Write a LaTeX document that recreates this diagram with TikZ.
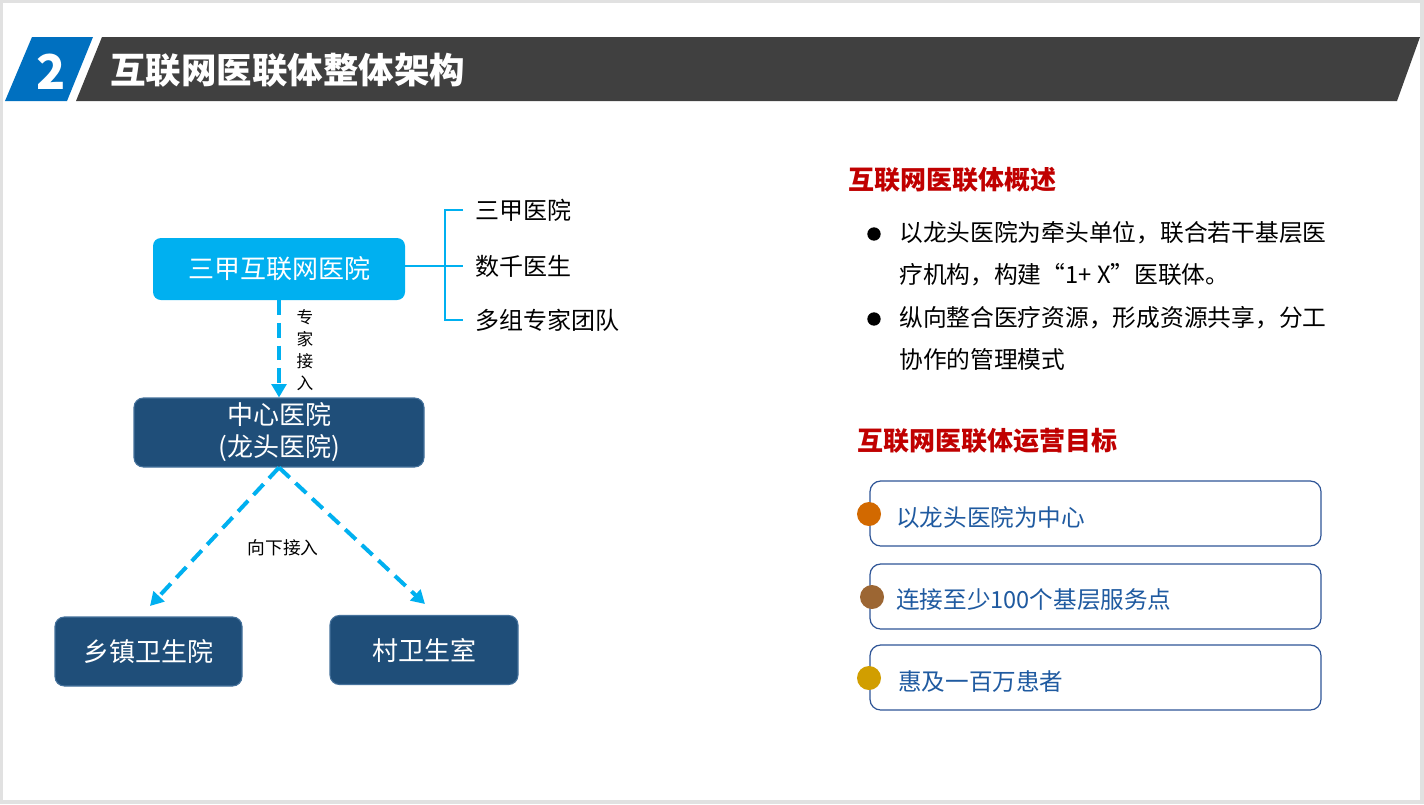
\documentclass[tikz,border=0pt]{standalone}
\usepackage{fontspec}
\setmainfont{Noto Sans CJK SC}
\usetikzlibrary{arrows.meta,positioning}
\definecolor{framegray}{RGB}{225,225,225}
\definecolor{titleblue}{RGB}{0,112,192}
\definecolor{bardark}{RGB}{64,64,64}
\definecolor{hubcyan}{RGB}{0,176,240}
\definecolor{navy}{RGB}{31,78,121}
\definecolor{navyline}{RGB}{70,114,156}
\definecolor{headred}{RGB}{192,0,0}
\definecolor{goalblue}{RGB}{31,90,160}
\definecolor{goalline}{RGB}{47,85,151}
\definecolor{dotorange}{RGB}{210,105,0}
\definecolor{dotbrown}{RGB}{156,102,51}
\definecolor{dotgold}{RGB}{209,158,0}
\tikzset{
  hub box/.style={rectangle,rounded corners=6pt,fill=hubcyan,text=white,minimum width=189pt,minimum height=46.5pt,inner sep=0pt,font=\fontsize{19.5}{24}\selectfont},
  navy box/.style={rectangle,rounded corners=7pt,fill=navy,draw=navyline,line width=0.8pt,text=white,minimum height=51.75pt,inner sep=0pt,align=center,font=\fontsize{19.5}{24}\selectfont},
  item text/.style={anchor=west,inner sep=0pt,font=\fontsize{18}{22}\selectfont},
  small label/.style={inner sep=0pt,align=center,font=\fontsize{12.5}{16.5}\selectfont},
  link arrow/.style={hubcyan,line width=3pt,dash pattern=on 11pt off 6pt,-{Triangle[length=10pt,width=11pt]}},
  brace line/.style={hubcyan,line width=1.2pt},
  heading/.style={anchor=west,inner sep=0pt,text=headred,font=\bfseries\fontsize{19.5}{24}\selectfont},
  bullet dot/.style={circle,fill=black,minimum size=10pt,inner sep=0pt},
  bullet text/.style={anchor=north west,inner sep=0pt,align=left,font=\fontsize{17.8}{31.5}\selectfont},
  goal box/.style={rectangle,rounded corners=8pt,draw=goalline,line width=0.9pt,minimum width=338.25pt,minimum height=48.75pt,inner sep=0pt},
  goal dot/.style={circle,minimum size=18pt,inner sep=0pt},
  goal text/.style={anchor=west,inner sep=0pt,text=goalblue,font=\fontsize{17.7}{22}\selectfont},
}
\begin{document}
\begin{tikzpicture}[x=0.75pt,y=-0.75pt]
  \useasboundingbox (0,0) rectangle (1424,804);
  \fill[framegray] (0,0) rectangle (1424,804);
  \fill[white] (3,3) rectangle (1420,800);
  % title bar
  \fill[titleblue] (5,101) -- (32,37) -- (93,37) -- (67,101) -- cycle;
  \fill[bardark] (76,101) -- (102,37) -- (1420,37) -- (1397,101) -- cycle;
  \node[text=white,inner sep=0pt,font=\bfseries\fontsize{36}{40}\selectfont] (num) at (51,72) {2};
  \node[anchor=west,text=white,inner sep=0pt,font=\bfseries\fontsize{26.6}{30}\selectfont] (title) at (110,70) {互联网医联体整体架构};

  % left: structure
  \node[hub box] (hub) at (279,269) {三甲互联网医院};
  \node[item text] (item1) at (475,210) {三甲医院};
  \node[item text] (item2) at (475,266) {数千医生};
  \node[item text] (item3) at (475,320) {多组专家团队};
  \coordinate (brace) at (445,266);
  \draw[brace line] (hub.east |- brace) -- ([xshift=-9pt]item2.west |- brace);
  \draw[brace line] ([xshift=-9pt]item1.west) -| (brace) |- ([xshift=-9pt]item3.west);

  \node[navy box,minimum width=217.5pt] (center) at (279,432.5) {中心医院\\(龙头医院)};
  \node[navy box,minimum width=140.25pt] (town) at (148.5,651.5) {乡镇卫生院};
  \node[navy box,minimum width=141pt] (village) at (424,650) {村卫生室};
  \coordinate (town tip) at (150,606);
  \coordinate (village tip) at (425,604);

  \draw[link arrow] (hub) -- (center);
  \draw[link arrow] (center.south) -- (town tip);
  \draw[link arrow] (center.south) -- (village tip);
  \node[small label] (expert) at (305,350) {专\\家\\接\\入};
  \node[small label,font=\fontsize{13.3}{16}\selectfont] (down) at (283,548) {向下接入};

  % right: overview
  \node[heading] (overview) at (848,180) {互联网医联体概述};
  \node[bullet dot] (dot1) at (874,234) {};
  \node[bullet text] (para1) at (899,221) {以龙头医院为牵头单位，联合若干基层医\\疗机构，构建“1+ X”医联体。};
  \node[bullet dot] (dot2) at (874,319) {};
  \node[bullet text] (para2) at (899,306) {纵向整合医疗资源，形成资源共享，分工\\协作的管理模式};

  % right: goals
  \node[heading] (goals) at (857,441) {互联网医联体运营目标};
  \node[goal box] (goal1) at (1095.5,513.5) {};
  \node[goal box] (goal2) at (1095.5,596.5) {};
  \node[goal box] (goal3) at (1095.5,677.5) {};
  \node[goal dot,fill=dotorange] (mark1) at (869,514) {};
  \node[goal dot,fill=dotbrown] (mark2) at (872,597) {};
  \node[goal dot,fill=dotgold] (mark3) at (869,678) {};
  \node[goal text] (text1) at (896,517) {以龙头医院为中心};
  \node[goal text] (text2) at (896,600) {连接至少100个基层服务点};
  \node[goal text] (text3) at (898,682) {惠及一百万患者};
\end{tikzpicture}
\end{document}
